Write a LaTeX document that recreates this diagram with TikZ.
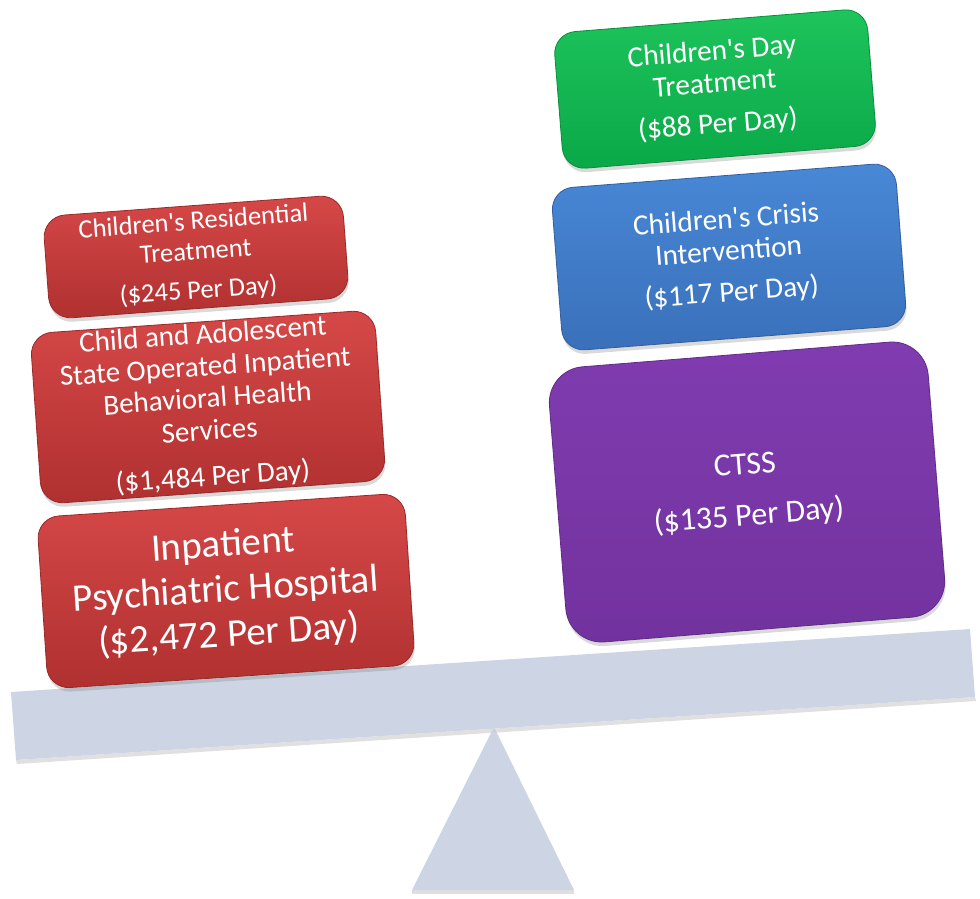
\documentclass[tikz,border=0pt]{standalone}
\usepackage{fontspec}
\setmainfont{Carlito}
\usetikzlibrary{shadows}
\newcommand{\ap}{\textquotesingle}
\definecolor{redtop}{RGB}{214,72,72}
\definecolor{redbot}{RGB}{176,48,48}
\definecolor{greentop}{RGB}{30,196,92}
\definecolor{greenbot}{RGB}{10,168,72}
\definecolor{bluetop}{RGB}{72,136,214}
\definecolor{bluebot}{RGB}{58,112,186}
\definecolor{purptop}{RGB}{128,60,176}
\definecolor{purpbot}{RGB}{114,50,158}
\definecolor{beam}{RGB}{205,213,228}
\tikzset{
  costbox/.style={rectangle, rounded corners=22pt, text=white, align=center,
    inner sep=2pt, line width=0.8pt,
    drop shadow={shadow xshift=1pt, shadow yshift=-4pt, opacity=0.3}},
  redcost/.style={costbox, draw=redbot!85!black, top color=redtop, bottom color=redbot},
  greencost/.style={costbox, draw=greenbot!85!black, top color=greentop, bottom color=greenbot},
  bluecost/.style={costbox, draw=bluebot!85!black, top color=bluetop, bottom color=bluebot},
  purplecost/.style={costbox, rounded corners=36pt, draw=purpbot!85!black, top color=purptop, bottom color=purpbot},
  seesaw/.style={fill=beam, draw=none}
}
\begin{document}
\begin{tikzpicture}[x=1pt,y=-1pt]
\useasboundingbox (0,0) rectangle (980,898);
% fulcrum
\fill[black!25, opacity=0.5] (412,890) -- (574,890) -- (574,894) -- (412,894) -- cycle;
\path[seesaw] (494,727) -- (574,890) -- (412,890) -- cycle;
% beam
\fill[black!20, opacity=0.6] (16,760) -- (975,697) -- (976,701) -- (17,764) -- cycle;
\path[seesaw] (11,692) -- (970,629) -- (975,697) -- (16,760) -- cycle;
% left stack
\node[redcost, minimum width=368pt, minimum height=172pt, rotate=3.8,
  font=\fontsize{39}{45}\selectfont] (hosp) at (226,591)
  {Inpatient\\Psychiatric Hospital\\(\$2,472 Per Day)};
\node[redcost, minimum width=345pt, minimum height=165pt, rotate=4,
  font=\fontsize{29}{32}\selectfont] (soibhs) at (208,407)
  {Child and Adolescent\\State Operated Inpatient\\Behavioral Health\\Services\\[14pt](\$1,484 Per Day)};
\node[redcost, minimum width=300pt, minimum height=103pt, rotate=4.2,
  font=\fontsize{26.5}{30}\selectfont] (resid) at (196,257)
  {Children\ap s Residential\\Treatment\\[9pt](\$245 Per Day)};
% right stack
\node[purplecost, minimum width=380pt, minimum height=276pt, rotate=4.6,
  font=\fontsize{32}{35}\selectfont] (ctss) at (747,492)
  {CTSS\\[16pt](\$135 Per Day)};
\node[bluecost, minimum width=345pt, minimum height=163pt, rotate=4.4,
  font=\fontsize{29.3}{32}\selectfont] (crisis) at (729,257)
  {Children\ap s Crisis\\Intervention\\[9pt](\$117 Per Day)};
\node[greencost, minimum width=314pt, minimum height=137pt, rotate=4.6,
  font=\fontsize{29.3}{32}\selectfont] (day) at (715,89)
  {Children\ap s Day\\Treatment\\[9pt](\$88 Per Day)};
\end{tikzpicture}
\end{document}
